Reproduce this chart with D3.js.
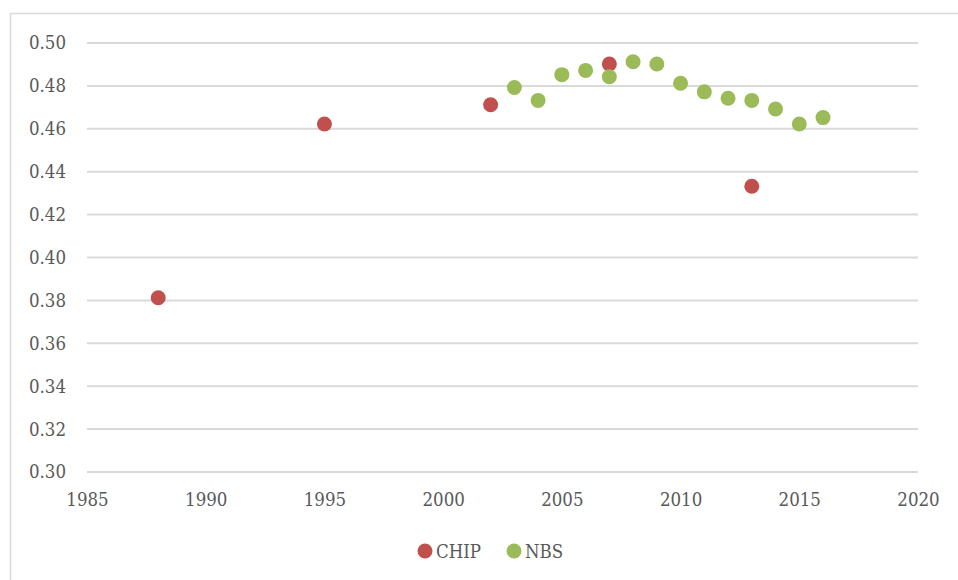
<!DOCTYPE html>
<html>
<head>
  <meta charset="utf-8">
  <style>
    body { margin: 0; background: #fff; }
  </style>
  <script src="https://cdn.jsdelivr.net/npm/d3@7"></script>
</head>
<body>
<script>
  // CHIP survey points
  const chipYears = [1988, 1995, 2002, 2007, 2013];
  const chipValues = [0.381, 0.462, 0.471, 0.490, 0.433];
  // NBS series
  const nbsYears = [2003, 2004, 2005, 2006, 2007, 2008, 2009, 2010, 2011, 2012, 2013, 2014, 2015, 2016];
  const nbsValues = [0.479, 0.473, 0.485, 0.487, 0.484, 0.491, 0.490, 0.481, 0.477, 0.474, 0.473, 0.469, 0.462, 0.465];
  const xTicks = [1985, 1990, 1995, 2000, 2005, 2010, 2015, 2020];
  const yTicks = [0.30, 0.32, 0.34, 0.36, 0.38, 0.40, 0.42, 0.44, 0.46, 0.48, 0.50];
  const seriesNames = ["CHIP", "NBS"];
  const seriesColors = ["#C0504D", "#9BBB59"];

  const W = 958, H = 580;
  const FONT = "DejaVu Serif Condensed";
  const FS = 18.5;
  const svg = d3.select("body").append("svg")
    .attr("width", W).attr("height", H)
    .style("display", "block");

  // chart frame
  svg.append("rect")
    .attr("x", 10.5).attr("y", 13.5)
    .attr("width", W + 10).attr("height", H + 10)
    .attr("fill", "none").attr("stroke", "#D9D9D9").attr("stroke-width", 1.5);

  const x = d3.scaleLinear().domain([1985, 2020]).range([87, 918]);
  const y = d3.scaleLinear().domain([0.30, 0.50]).range([471.5, 42.5]);

  // horizontal gridlines
  svg.append("g")
    .attr("transform", "translate(87,0)")
    .call(d3.axisLeft(y).tickValues(yTicks).tickSize(-(918 - 87)).tickFormat(""))
    .call(g => g.select(".domain").remove())
    .call(g => g.selectAll(".tick line").attr("stroke", "#D9D9D9").attr("stroke-width", 2));

  // y labels
  svg.append("g")
    .attr("transform", "translate(66,0)")
    .call(d3.axisLeft(y).tickValues(yTicks).tickSize(0).tickPadding(0).tickFormat(d3.format(".2f")))
    .attr("font-family", FONT).attr("font-size", FS)
    .call(g => g.select(".domain").remove())
    .call(g => g.selectAll("text")
      .attr("fill", "#595959")
      .attr("dy", "0.35em"));

  // x labels
  svg.append("g")
    .attr("transform", "translate(0,493)")
    .call(d3.axisBottom(x).tickValues(xTicks).tickSize(0).tickPadding(0).tickFormat(d3.format("d")))
    .attr("font-family", FONT).attr("font-size", FS)
    .call(g => g.select(".domain").remove())
    .call(g => g.selectAll("text")
      .attr("fill", "#595959")
      .attr("dy", "0.71em"));

  const chip = chipYears.map((d, i) => ({year: d, v: chipValues[i]}));
  const nbs = nbsYears.map((d, i) => ({year: d, v: nbsValues[i]}));

  svg.append("g").selectAll("circle").data(chip).join("circle")
    .attr("cx", d => x(d.year)).attr("cy", d => y(d.v))
    .attr("r", 7.5).attr("fill", seriesColors[0]);

  svg.append("g").selectAll("circle").data(nbs).join("circle")
    .attr("cx", d => x(d.year)).attr("cy", d => y(d.v))
    .attr("r", 7.5).attr("fill", seriesColors[1]);

  // legend
  const legX = [425, 514];
  const leg = svg.append("g").selectAll("g").data(seriesNames).join("g")
    .attr("transform", (d, i) => "translate(" + legX[i] + ",551)");
  leg.append("circle").attr("r", 7.5).attr("fill", (d, i) => seriesColors[i]);
  leg.append("text")
    .attr("x", 11).attr("y", 6.5)
    .attr("font-family", FONT)
    .attr("font-size", FS)
    .attr("fill", "#595959")
    .text(d => d);
</script>
</body>
</html>
